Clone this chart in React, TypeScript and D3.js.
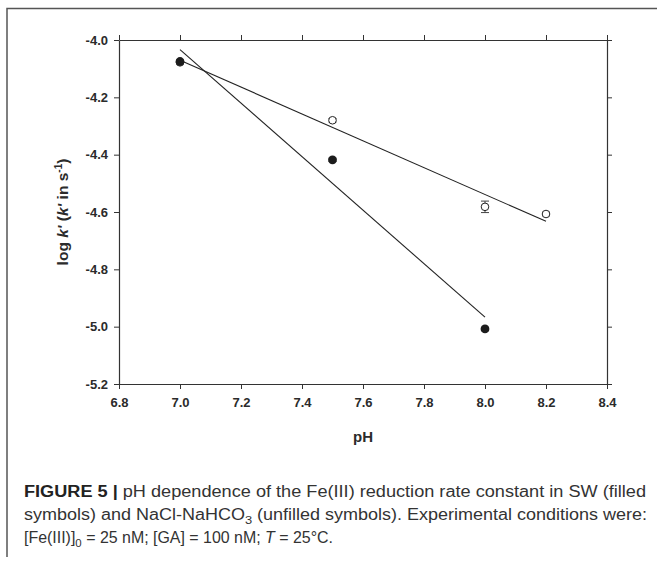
import * as React from 'react';
import * as d3 from 'd3';

// SW (filled symbols)
const swPH = [7.0, 7.5, 8.0];
const swLogK = [-4.075, -4.418, -5.008];
const swErr = [0.006, 0.006, 0.006];

// NaCl-NaHCO3 (unfilled symbols)
const naclPH = [7.0, 7.5, 8.0, 8.2];
const naclLogK = [-4.078, -4.28, -4.582, -4.607];
const naclErr = [0.006, 0.006, 0.02, 0.006];

const xTicks = [6.8, 7.0, 7.2, 7.4, 7.6, 7.8, 8.0, 8.2, 8.4];
const yTicks = [-4.0, -4.2, -4.4, -4.6, -4.8, -5.0, -5.2];

const captionLines = [
  ' pH dependence of the Fe(III) reduction rate constant in SW (filled',
  'symbols) and NaCl-NaHCO',
  ' (unfilled symbols). Experimental conditions were:',
];

function fit(xs: number[], ys: number[]) {
  const mx = d3.mean(xs) as number;
  const my = d3.mean(ys) as number;
  let sxy = 0;
  let sxx = 0;
  xs.forEach((x, i) => {
    sxy += (x - mx) * (ys[i] - my);
    sxx += (x - mx) * (x - mx);
  });
  const b = sxy / sxx;
  const a = my - b * mx;
  const x0 = d3.min(xs) as number;
  const x1 = d3.max(xs) as number;
  return [
    [x0, a + b * x0],
    [x1, a + b * x1],
  ];
}

function Chart() {
  const ref = React.useRef<SVGSVGElement | null>(null);

  React.useEffect(() => {
    if (!ref.current) return;
    const svg = d3.select(ref.current);
    svg.selectAll('*').remove();

    const left = 119;
    const right = 607;
    const top = 40;
    const bottom = 384;
    const font = '"Liberation Sans", Arial, sans-serif';

    const x = d3.scaleLinear().domain([6.8, 8.4]).range([left, right]);
    const y = d3.scaleLinear().domain([-5.2, -4.0]).range([bottom, top]);

    // figure frame
    svg.append('path')
      .attr('d', 'M7,557 L7,8.5 L657,8.5')
      .attr('fill', 'none')
      .attr('stroke', '#555')
      .attr('stroke-width', 1.5);

    const axisStyle = (g: any) => {
      g.select('.domain').attr('stroke', '#333').attr('stroke-width', 1.2);
      g.selectAll('.tick line').attr('stroke', '#333').attr('stroke-width', 1);
      g.selectAll('text')
        .attr('font-family', font)
        .attr('font-weight', 'bold')
        .attr('font-size', 13)
        .attr('fill', '#2b2b2b');
    };

    const fmt = d3.format('.1f');
    const minus = (d: number) => fmt(d).replace('−', '-');

    svg.append('g')
      .attr('transform', `translate(0,${bottom})`)
      .call(d3.axisBottom(x).tickValues(xTicks).tickSize(5).tickSizeOuter(0).tickPadding(9).tickFormat(minus as any) as any)
      .call(axisStyle);
    svg.append('g')
      .attr('transform', `translate(0,${top})`)
      .call(d3.axisTop(x).tickValues(xTicks).tickSize(5).tickSizeOuter(0).tickFormat(() => '') as any)
      .call(axisStyle);
    svg.append('g')
      .attr('transform', `translate(${left},0)`)
      .call(d3.axisLeft(y).tickValues(yTicks).tickSize(5).tickSizeOuter(0).tickPadding(6).tickFormat(minus as any) as any)
      .call(axisStyle);
    svg.append('g')
      .attr('transform', `translate(${right},0)`)
      .call(d3.axisRight(y).tickValues(yTicks).tickSize(5).tickSizeOuter(0).tickFormat(() => '') as any)
      .call(axisStyle);

    // regression lines
    const line = d3.line<number[]>().x(d => x(d[0])).y(d => y(d[1]));
    [fit(swPH, swLogK), fit(naclPH, naclLogK)].forEach(seg => {
      svg.append('path')
        .attr('d', line(seg) as string)
        .attr('fill', 'none')
        .attr('stroke', '#222')
        .attr('stroke-width', 1.1);
    });

    const errBars = (xs: number[], ys: number[], es: number[]) => {
      xs.forEach((v, i) => {
        const cx = x(v);
        const y0 = y(ys[i] - es[i]);
        const y1 = y(ys[i] + es[i]);
        const g = svg.append('g').attr('stroke', '#444').attr('stroke-width', 1);
        g.append('line').attr('x1', cx).attr('x2', cx).attr('y1', y0).attr('y2', y1);
        g.append('line').attr('x1', cx - 4).attr('x2', cx + 4).attr('y1', y0).attr('y2', y0);
        g.append('line').attr('x1', cx - 4).attr('x2', cx + 4).attr('y1', y1).attr('y2', y1);
      });
    };

    errBars(naclPH, naclLogK, naclErr);
    naclPH.forEach((v, i) => {
      svg.append('circle')
        .attr('cx', x(v))
        .attr('cy', y(naclLogK[i]))
        .attr('r', 3.8)
        .attr('fill', '#fff')
        .attr('stroke', '#222')
        .attr('stroke-width', 1);
    });

    errBars(swPH, swLogK, swErr);
    swPH.forEach((v, i) => {
      svg.append('circle')
        .attr('cx', x(v))
        .attr('cy', y(swLogK[i]))
        .attr('r', 4.4)
        .attr('fill', '#1c1c1c');
    });

    // axis titles
    svg.append('text')
      .attr('x', (left + right) / 2)
      .attr('y', 442)
      .attr('text-anchor', 'middle')
      .attr('font-family', font)
      .attr('font-weight', 'bold')
      .attr('font-size', 15)
      .attr('fill', '#2b2b2b')
      .text('pH');

    const yl = svg.append('text')
      .attr('transform', `translate(68,${(top + bottom) / 2}) rotate(-90)`)
      .attr('text-anchor', 'middle')
      .attr('font-family', font)
      .attr('font-weight', 'bold')
      .attr('font-size', 15.5)
      .attr('fill', '#2b2b2b');
    yl.append('tspan').text('log ');
    yl.append('tspan').attr('font-style', 'italic').text("k'");
    yl.append('tspan').text(' (');
    yl.append('tspan').attr('font-style', 'italic').text("k'");
    yl.append('tspan').text(' in s');
    yl.append('tspan').attr('font-size', 10).attr('dy', -6).text('-1');
    yl.append('tspan').attr('dy', 6).text(')');

    // caption
    const cap = svg.append('g')
      .attr('font-family', font)
      .attr('font-size', 16)
      .attr('fill', '#333');
    const l1 = cap.append('text').attr('x', 24).attr('y', 497)
      .attr('textLength', 622).attr('lengthAdjust', 'spacingAndGlyphs');
    l1.append('tspan').attr('font-weight', 'bold').attr('fill', '#222').text('FIGURE 5 |');
    l1.append('tspan').text(captionLines[0]);
    const l2 = cap.append('text').attr('x', 24).attr('y', 520)
      .attr('textLength', 623).attr('lengthAdjust', 'spacingAndGlyphs');
    l2.append('tspan').text(captionLines[1]);
    l2.append('tspan').attr('font-size', 11.5).attr('dy', 4).text('3');
    l2.append('tspan').attr('dy', -4).text(captionLines[2]);
    const l3 = cap.append('text').attr('x', 24).attr('y', 543)
      .attr('textLength', 309).attr('lengthAdjust', 'spacingAndGlyphs');
    l3.append('tspan').text('[Fe(III)]');
    l3.append('tspan').attr('font-size', 11.5).attr('dy', 4).text('0');
    l3.append('tspan').attr('dy', -4).text(' = 25 nM; [GA] = 100 nM; ');
    l3.append('tspan').attr('font-style', 'italic').text('T');
    l3.append('tspan').text(' = 25°C.');
  }, []);

  return (
    <svg
      ref={ref}
      width={657}
      height={565}
      viewBox="0 0 657 565"
      style={{ position: 'absolute', left: 0, top: 0, background: '#fff' }}
    />
  );
}

export default function App() {
  return <Chart />;
}
